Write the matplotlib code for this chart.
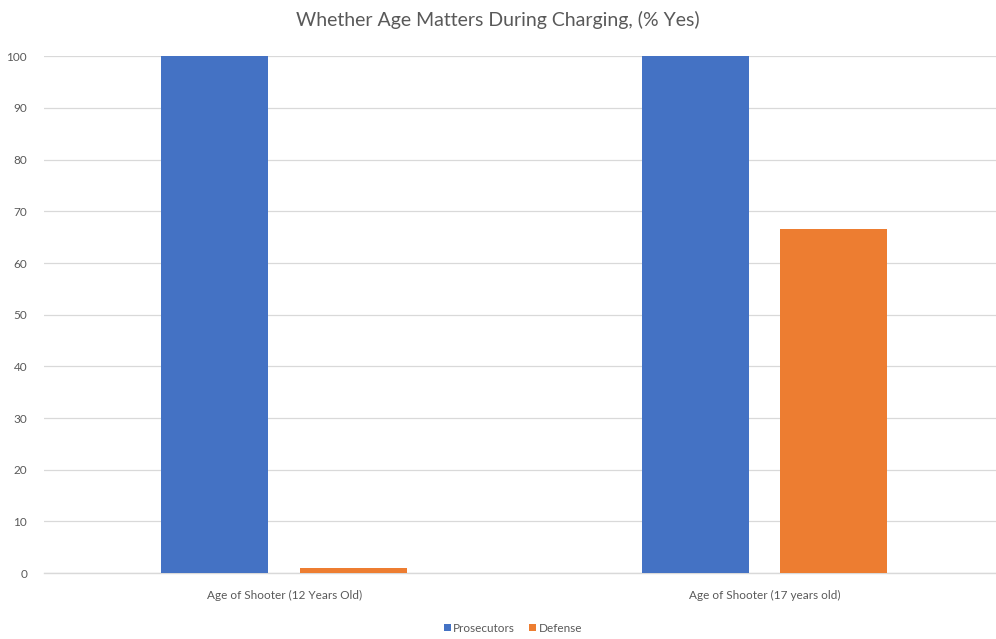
import numpy as np
import matplotlib
matplotlib.use("Agg")
import matplotlib.pyplot as plt

plt.rcParams['font.family'] = ['Lato', 'DejaVu Sans']

categories = ['Age of Shooter (12 Years Old)', 'Age of Shooter (17 years old)']
prosecutors = [100, 100]
defense = [1, 66.5]

blue = '#4472C4'
orange = '#ED7D31'
txt = '#595959'

fig = plt.figure(figsize=(9.96, 6.39), dpi=100)
# plot area runs a little past the right edge, as in the reference
ax = fig.add_axes([0.044, 0.103, 0.965, 0.809])

x = np.arange(len(categories))
w = 0.223
ax.bar(x - 0.144, prosecutors, w, color=blue, label='Prosecutors')
ax.bar(x + 0.144, defense, w, color=orange, label='Defense')

ax.set_xlim(-0.5, 1.5)
ax.set_ylim(0, 100)
ax.set_yticks(range(0, 101, 10))
ax.set_xticks(x)
ax.set_xticklabels(categories)
ax.tick_params(axis='both', length=0, colors=txt, labelsize=8.5)
ax.tick_params(axis='x', pad=12)
ax.tick_params(axis='y', pad=12)
ax.grid(axis='y', color='#D9D9D9', linewidth=0.9)
ax.set_axisbelow(True)
for s in ['top', 'right', 'left']:
    ax.spines[s].set_visible(False)
ax.spines['bottom'].set_color('#D9D9D9')
ax.spines['bottom'].set_linewidth(1.0)
ax.spines['bottom'].set_zorder(0.5)

fig.text(0.5, 0.968, 'Whether Age Matters During Charging, (% Yes)', ha='center', va='center',
         fontsize=14, color=txt)

fig.legend(loc='center', bbox_to_anchor=(0.515, 0.017), ncol=2, frameon=False, fontsize=8.5,
           handlelength=0.6, handleheight=0.6, handletextpad=0.2, columnspacing=1.2,
           labelcolor=txt)

fig.savefig('out.png', dpi=100)
